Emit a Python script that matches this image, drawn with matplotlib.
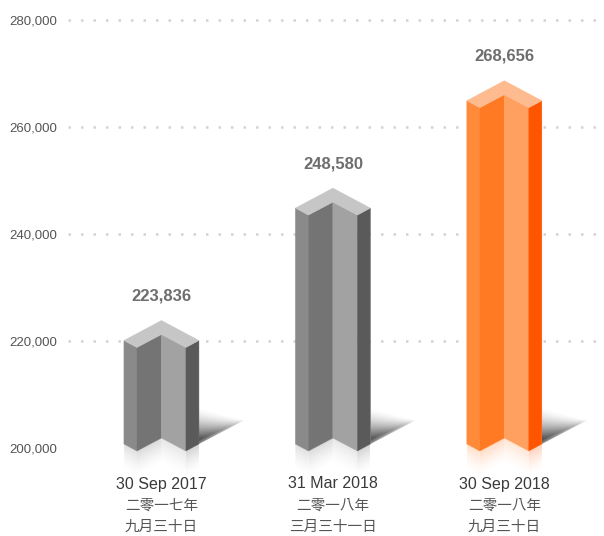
import numpy as np
import matplotlib.pyplot as plt
from matplotlib.patches import Polygon
from matplotlib.colors import to_rgb
from matplotlib.transforms import blended_transform_factory

# data
dates = ['30 Sep 2017', '31 Mar 2018', '30 Sep 2018']
dates_zh_year = ['二零一七年', '二零一八年', '二零一八年']
dates_zh_day = ['九月三十日', '三月三十一日', '九月三十日']
values = [223836, 248580, 268656]
highlight = [False, False, True]
y_ticks = [200000, 220000, 240000, 260000, 280000]

# face colours: left outer, left inner, right inner, right outer, roof
gray_faces = ['#8a8a8a', '#747474', '#a2a2a2', '#5a5a5a', '#c6c6c6']
orange_faces = ['#ff8a3a', '#ff7a22', '#ffa060', '#ff5400', '#ffbb90']

W, H = 604, 536
ax_left, ax_right, ax_top, ax_bot = 68, 600, 20, 488
xlim = (-0.545, 2.558)
ymin_val, ymax_val = 200000, 280000
PY = (ymax_val - ymin_val) / 428.0          # data units per pixel (y)
PX = (xlim[1] - xlim[0]) / (ax_right - ax_left)
ylim = (ymin_val - (ax_bot - 448) * PY, ymax_val)

fig = plt.figure(figsize=(W / 100, H / 100), dpi=100)
ax = fig.add_axes([ax_left / W, 1 - ax_bot / H, (ax_right - ax_left) / W, (ax_bot - ax_top) / H])


def gradient_poly(verts, rgb, alpha_fn, z):
    verts = np.array(verts)
    x0, x1 = verts[:, 0].min(), verts[:, 0].max()
    y0, y1 = verts[:, 1].min(), verts[:, 1].max()
    xx, yy = np.meshgrid(np.linspace(x0, x1, 80), np.linspace(y0, y1, 80))
    img = np.zeros((80, 80, 4))
    img[..., :3] = rgb
    img[..., 3] = np.clip(alpha_fn(xx, yy), 0, 1)
    im = ax.imshow(img, extent=(x0, x1, y0, y1), origin='lower', aspect='auto',
                   interpolation='bilinear', zorder=z)
    patch = Polygon(verts, closed=True, facecolor='none', edgecolor='none', transform=ax.transData)
    im.set_clip_path(patch)


# dotted gridlines
for t in y_ticks[1:]:
    ax.axhline(t, color='#d2d2d2', lw=1.8, dashes=(1, 4), dash_capstyle='butt', zorder=1, clip_on=False)

for i, v in enumerate(values):
    faces = orange_faces if highlight[i] else gray_faces
    xl, xil, xc, xir, xr = [i + d * PX for d in (-37.5, -24.5, 0, 24.5, 37.5)]
    # top chevron
    P = v
    To, Ti, Tc = v - 20 * PY, v - 27 * PY, v - 14 * PY
    # bottom chevron
    Bo = ymin_val + 4 * PY
    Bi, Bc = Bo - 7 * PY, Bo + 6 * PY

    polys = [
        [(xl, Bo), (xl, To), (xil, Ti), (xil, Bi)],
        [(xil, Bi), (xil, Ti), (xc, Tc), (xc, Bc)],
        [(xc, Bc), (xc, Tc), (xir, Ti), (xir, Bi)],
        [(xir, Bi), (xir, Ti), (xr, To), (xr, Bo)],
        [(xl, To), (xc, P), (xr, To), (xir, Ti), (xc, Tc), (xil, Ti)],
    ]
    for pts, col in zip(polys, faces):
        ax.add_patch(Polygon(pts, closed=True, facecolor=col, edgecolor=col, lw=0.3, zorder=3))

    # faded reflection under each front face
    R = 26 * PY
    edges = [((xl, Bo), (xil, Bi)), ((xil, Bi), (xc, Bc)), ((xc, Bc), (xir, Bi)), ((xir, Bi), (xr, Bo))]
    for (pa, pb), col in zip(edges, faces[:4]):
        verts = [pa, pb, (pb[0], pb[1] - R), (pa[0], pa[1] - R)]

        def afn(xx, yy, pa=pa, pb=pb):
            ey = pa[1] + (xx - pa[0]) * (pb[1] - pa[1]) / (pb[0] - pa[0])
            return 0.26 * (1 - (ey - yy) / R) ** 1.5
        gradient_poly(verts, to_rgb(col), afn, 2)

    # soft floor shadow to the right of the bar
    sw, sh_tip, sh_top = 46 * PX, 24 * PY, 38 * PY
    sverts = [(xr, Bo), (xr + sw, Bo + sh_tip), (xr, Bo + sh_top)]

    def sfn(xx, yy, xr=xr, Bo=Bo):
        s = np.clip((xx - xr) / sw, 0, 1)
        bot = Bo + s * sh_tip
        top = Bo + sh_top - s * (sh_top - sh_tip)
        h = np.clip((yy - bot) / np.maximum(top - bot, 1e-9), 0, 1)
        edge = np.clip(h / 0.12, 0, 1) * 0.5 + 0.5
        return 0.95 * (1 - h) ** 1.7 * (1 - s) ** 0.7 * edge
    gradient_poly(sverts, (0.1, 0.1, 0.1), sfn, 2)

    ax.annotate(f'{v:,}', (i, v), xytext=(0, 17.5), textcoords='offset points',
                ha='center', va='center', fontsize=12, fontweight='bold',
                color='#6e6e6e', family='Liberation Sans', zorder=4)

# category labels below the bars
tr = blended_transform_factory(ax.transData, fig.transFigure)
cjk = ['Noto Sans CJK TC', 'DejaVu Sans']
for i, d in enumerate(dates):
    ax.text(i, 1 - 484 / H, d, transform=tr, ha='center', va='center', fontsize=11.5,
            color='#3a3a3a', family='Liberation Sans')
    ax.text(i, 1 - 506 / H, dates_zh_year[i], transform=tr, ha='center', va='center',
            fontsize=10.5, color='#555555', family=cjk)
    ax.text(i, 1 - 527 / H, dates_zh_day[i], transform=tr, ha='center', va='center',
            fontsize=10.5, color='#555555', family=cjk)

ax.set_xlim(*xlim)
ax.set_ylim(*ylim)
ax.set_yticks(y_ticks)
ax.set_yticklabels([f'{t:,}' for t in y_ticks], family='Liberation Sans', fontsize=9.5, color='#555555')
ax.tick_params(axis='y', length=0, pad=8)
ax.set_xticks([])
for s in ax.spines.values():
    s.set_visible(False)

fig.savefig('out.png', dpi=100)
